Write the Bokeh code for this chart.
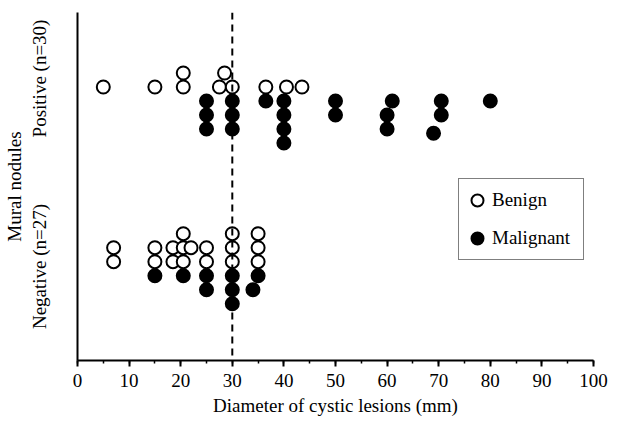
from bokeh.plotting import figure
from bokeh.models import (Range1d, Span, SingleIntervalTicker, FixedTicker,
                          Legend, LegendItem, ColumnDataSource)
from bokeh.embed import file_html
from bokeh.resources import INLINE

# ---------------- data ----------------
row_labels = ["Positive (n=30)", "Negative (n=27)"]

# Mural nodules positive
pos_benign_mm = [5, 15, 20.5, 20.5, 27.5, 28.5, 30, 36.5, 40.5, 43.5]
pos_benign_stack = [0, 0, 0, 1, 0, 1, 0, 0, 0, 0]
pos_malig_mm = [25, 25, 25, 30, 30, 30, 36.5, 40, 40, 40, 40, 50, 50,
                61, 60, 60, 70.5, 70.5, 69, 80]
pos_malig_stack = [0, 1, 2, 0, 1, 2, 0, 0, 1, 2, 3, 0, 1,
                   0, 1, 2, 0, 1, 2.3, 0]

# Mural nodules negative
neg_benign_mm = [7, 7, 15, 15, 18.5, 18.5, 20.5, 20.5, 20.5, 22,
                 25, 25, 30, 30, 30, 35, 35, 35]
neg_benign_stack = [0, 1, 0, 1, 0, 1, 0, 1, 2, 1,
                    0, 1, 0, 1, 2, 0, 1, 2]
neg_malig_mm = [15, 20.5, 25, 25, 30, 30, 30, 35, 34]
neg_malig_stack = [0, 0, 0, 1, 0, 1, 2, 0, 1]

cutoff_mm = 30
x_ticks_interval = 10

# ---------------- layout constants ----------------
FONT = "Liberation Serif"
FS = "19px"
ROW_CENTER = {"pos": 266.5, "neg": 91.8}   # y units = screen px
LABEL_Y = {"pos": 282, "neg": 94}
HALF = 7.0
STEP = 14.0


def ys(center, stacks, sign):
    return [center + sign * (HALF + STEP * s) for s in stacks]


benign_src = ColumnDataSource(dict(
    x=pos_benign_mm + neg_benign_mm,
    y=ys(ROW_CENTER["pos"], pos_benign_stack, 1) + ys(ROW_CENTER["neg"], neg_benign_stack, 1),
))
malig_src = ColumnDataSource(dict(
    x=pos_malig_mm + neg_malig_mm,
    y=ys(ROW_CENTER["pos"], pos_malig_stack, -1) + ys(ROW_CENTER["neg"], neg_malig_stack, -1),
))

p = figure(frame_width=516, frame_height=348, output_backend="svg",
           toolbar_location=None,
           x_range=Range1d(0, 100), y_range=Range1d(0, 348),
           min_border_left=69, min_border_right=16, min_border_top=12,
           min_border_bottom=50)
p.outline_line_color = None
p.grid.visible = False
p.background_fill_color = "white"
p.border_fill_color = "white"

# cut-off line
p.add_layout(Span(location=cutoff_mm, dimension="height", line_color="black",
                  line_width=2, line_dash="7 5"))

r_m = p.scatter("x", "y", source=malig_src, marker="circle", size=13,
                fill_color="black", line_color="black", line_width=2)
r_b = p.scatter("x", "y", source=benign_src, marker="circle", size=13,
                fill_color="white", line_color="black", line_width=2)

# x axis
xa = p.xaxis[0]
xa.ticker = SingleIntervalTicker(interval=x_ticks_interval, num_minor_ticks=2)
xa.axis_label = "Diameter of cystic lesions (mm)"
xa.axis_label_text_font = FONT
xa.axis_label_text_font_size = FS
xa.axis_label_text_font_style = "normal"
xa.axis_label_text_color = "black"
xa.axis_label_standoff = 5
xa.major_label_text_font = FONT
xa.major_label_text_font_size = FS
xa.major_label_text_color = "black"
xa.major_label_standoff = 7
xa.axis_line_width = 2
xa.axis_line_color = "black"
xa.major_tick_in = 0
xa.major_tick_out = 6
xa.major_tick_line_width = 2
xa.minor_tick_in = 0
xa.minor_tick_out = 3
xa.minor_tick_line_width = 1.5

# y axis
ya = p.yaxis[0]
ya.ticker = FixedTicker(ticks=[LABEL_Y["pos"], LABEL_Y["neg"]])
ya.major_label_overrides = {LABEL_Y["pos"]: row_labels[0], LABEL_Y["neg"]: row_labels[1]}
ya.major_label_orientation = "parallel"
ya.major_label_text_font = FONT
ya.major_label_text_font_size = FS
ya.major_label_text_color = "black"
ya.major_label_standoff = 22
ya.major_tick_line_color = None
ya.minor_tick_line_color = None
ya.axis_line_width = 2
ya.axis_line_color = "black"
ya.axis_label = "Mural nodules"
ya.axis_label_text_font = FONT
ya.axis_label_text_font_size = FS
ya.axis_label_text_font_style = "normal"
ya.axis_label_text_color = "black"
ya.axis_label_standoff = 1

legend = Legend(items=[LegendItem(label="Benign", renderers=[r_b]),
                       LegendItem(label="Malignant", renderers=[r_m])],
                location=(381, 100), orientation="vertical",
                glyph_width=30, glyph_height=36, label_standoff=0,
                label_width=88, padding=3, spacing=2, margin=0,
                label_text_font=FONT, label_text_font_size=FS,
                label_text_color="black",
                border_line_color="black", border_line_width=1.5,
                background_fill_color="white", background_fill_alpha=1)
p.add_layout(legend, "center")

open("out.html", "w").write(file_html(p, INLINE))
